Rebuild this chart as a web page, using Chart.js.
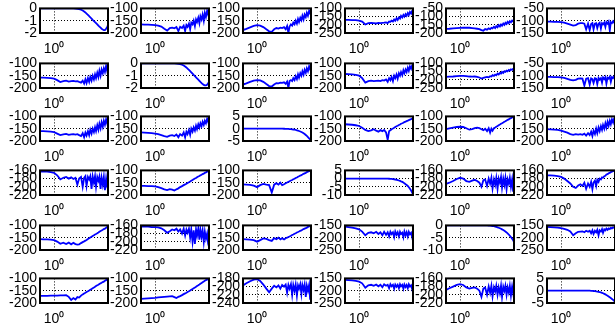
<!DOCTYPE html>
<html>
<head>
<meta charset="utf-8">
<script src="https://cdn.jsdelivr.net/npm/chart.js@4"></script>
<style>
  html, body { margin: 0; padding: 0; background: #fff; }
  #grid { position: relative; width: 615px; height: 324px; overflow: hidden; }
  #grid canvas { position: absolute; }
</style>
</head>
<body>
<div id="grid"></div>
<script>
// frequency samples (shared x axis, log scale)
const freq = [0.3, 0.4, 0.55, 0.75, 1, 1.3, 1.7, 2.2, 2.8, 3.5, 4.3, 5.2, 6.2, 7.3, 8.5, 10, 11.5, 13, 14.5, 16,
  18, 20, 22, 24.5, 27, 30, 33, 36, 40, 44, 48, 53, 58, 64, 70, 77, 85, 93, 100];
const xTickLabel = "10⁰";

// magnitude responses, row by row
const h11 = [0, 0, 0, 0, 0, 0, 0, 0, 0, 0, 0, 0, -0.01, -0.03, -0.06, -0.11, -0.17, -0.25, -0.33, -0.42,
  -0.53, -0.63, -0.72, -0.83, -0.93, -1.03, -1.12, -1.2, -1.3, -1.4, -1.48, -1.57, -1.65, -1.72, -1.77, -1.76, -1.66, -1.5, -1.36];
const h12 = [-165, -166, -166, -167, -168, -170, -174, -183, -190, -180, -178, -181, -176, -192, -175, -180, -170, -192, -168, -175,
  -162, -185, -158, -165, -150, -172, -145, -155, -138, -160, -132, -145, -125, -150, -118, -135, -110, -125, -102];
const h13 = [-188, -183, -177, -171, -168, -170, -176, -185, -193, -195, -185, -180, -182, -178, -180, -176, -185, -172, -200, -174,
  -165, -170, -158, -165, -150, -162, -143, -155, -138, -148, -130, -145, -125, -135, -118, -130, -110, -120, -102];
const h14 = [-170, -170, -171, -172, -174, -180, -198, -190, -188, -190, -192, -189, -190, -188, -187, -185, -190, -180, -182, -175,
  -180, -168, -175, -160, -170, -155, -162, -145, -155, -140, -150, -135, -145, -128, -140, -122, -132, -115, -110];
const h15 = [-175, -174, -172, -170, -169, -168, -167, -168, -170, -172, -174, -176, -182, -186, -176, -180, -172, -176, -168, -172,
  -162, -170, -158, -165, -152, -160, -148, -155, -142, -150, -138, -145, -132, -140, -128, -135, -124, -130, -118];
const h16 = [-104, -104, -105, -105, -106, -108, -112, -116, -120, -118, -112, -110, -110, -112, -135, -112, -138, -114, -110, -135,
  -112, -110, -130, -112, -108, -132, -110, -115, -108, -125, -106, -112, -104, -140, -106, -110, -102, -108, -100];

const h21 = [-158, -158, -159, -160, -162, -168, -176, -172, -170, -174, -172, -171, -173, -172, -175, -178, -170, -182, -165, -180,
  -160, -175, -155, -170, -150, -165, -145, -160, -138, -155, -130, -150, -125, -140, -120, -135, -110, -130, -108];
const h22 = [0, 0, 0, 0, 0, 0, 0, 0, 0, 0, 0, 0, -0.01, -0.03, -0.06, -0.11, -0.17, -0.25, -0.33, -0.42,
  -0.53, -0.63, -0.73, -0.84, -0.94, -1.04, -1.13, -1.22, -1.32, -1.42, -1.51, -1.6, -1.68, -1.75, -1.79, -1.79, -1.74, -1.62, -1.5];
const h23 = [-186, -181, -175, -170, -168, -169, -175, -184, -192, -194, -186, -180, -181, -178, -179, -177, -183, -174, -200, -172,
  -168, -172, -160, -168, -152, -164, -145, -158, -140, -150, -132, -146, -126, -138, -120, -132, -112, -124, -104];
const h24 = [-143, -144, -145, -147, -150, -160, -178, -172, -170, -172, -171, -170, -172, -168, -170, -165, -175, -160, -168, -155,
  -172, -150, -160, -145, -162, -140, -150, -135, -148, -128, -140, -125, -135, -118, -130, -112, -122, -108, -105];
const h25 = [-182, -181, -180, -178, -176, -176, -178, -180, -181, -180, -182, -186, -192, -188, -185, -182, -185, -178, -180, -172,
  -176, -168, -172, -162, -168, -158, -162, -152, -158, -148, -152, -144, -148, -140, -144, -136, -140, -132, -130];
const h26 = [-105, -105, -106, -106, -107, -109, -113, -117, -119, -117, -112, -111, -112, -140, -112, -110, -136, -111, -114, -130,
  -110, -112, -134, -109, -116, -110, -128, -107, -114, -106, -132, -108, -112, -104, -125, -106, -110, -102, -101];

const h31 = [-160, -160, -161, -162, -164, -170, -176, -173, -171, -175, -173, -172, -174, -172, -176, -180, -168, -185, -166, -178,
  -160, -176, -154, -170, -150, -164, -144, -160, -136, -154, -130, -148, -124, -142, -118, -134, -112, -128, -106];
const h32 = [-165, -166, -167, -168, -170, -172, -176, -180, -183, -178, -176, -180, -174, -185, -172, -178, -165, -185, -162, -172,
  -155, -175, -150, -162, -145, -158, -138, -152, -132, -145, -128, -140, -122, -135, -118, -128, -110, -122, -104];
const h33 = [0, 0, 0, 0, 0, 0, 0, 0, 0, 0, 0, 0, 0, 0, 0, -0.02, -0.04, -0.07, -0.1, -0.14,
  -0.2, -0.26, -0.33, -0.42, -0.52, -0.64, -0.78, -0.93, -1.12, -1.33, -1.55, -1.85, -2.15, -2.55, -2.95, -3.4, -3.9, -4.4, -4.9];
const h34 = [-132, -133, -134, -136, -139, -146, -155, -160, -157, -152, -158, -162, -156, -160, -155, -165, -195, -160, -156, -152,
  -149, -146, -143, -140, -138, -135, -133, -130, -128, -126, -123, -121, -119, -117, -115, -113, -111, -109, -107];
const h35 = [-152, -149, -146, -143, -142, -143, -148, -154, -152, -148, -146, -148, -152, -156, -150, -160, -148, -166, -150, -158,
  -148, -145, -142, -139, -136, -133, -130, -128, -125, -122, -120, -117, -114, -112, -109, -107, -104, -102, -100];
const h36 = [-152, -153, -154, -155, -158, -162, -166, -172, -175, -172, -174, -172, -175, -170, -178, -168, -176, -162, -180, -158,
  -172, -150, -168, -145, -160, -140, -155, -135, -150, -128, -145, -122, -138, -118, -132, -112, -125, -108, -105];

const h41 = [-163, -163, -163, -164, -166, -172, -182, -178, -176, -180, -177, -181, -178, -195, -180, -176, -200, -178, -174, -198,
  -176, -182, -174, -205, -175, -190, -174, -200, -176, -185, -175, -205, -178, -195, -176, -208, -180, -200, -205];
const h42 = [-163, -163, -164, -164, -165, -168, -172, -177, -180, -176, -178, -182, -177, -173, -168, -164, -160, -157, -154, -151,
  -148, -145, -142, -139, -136, -133, -131, -128, -125, -123, -120, -118, -115, -113, -110, -108, -105, -103, -101];
const h43 = [-157, -158, -159, -162, -168, -160, -155, -158, -160, -190, -158, -152, -158, -150, -160, -156, -152, -149, -147, -144,
  -141, -139, -136, -134, -131, -129, -126, -124, -121, -119, -117, -114, -112, -110, -107, -105, -103, -101, -100];
const h44 = [0, 0, 0, 0, 0, 0, 0, 0, 0, 0, 0, 0, 0, 0, 0, -0.02, -0.05, -0.09, -0.15, -0.22,
  -0.3, -0.4, -0.55, -0.7, -0.9, -1.15, -1.4, -1.7, -2.0, -2.4, -2.9, -3.4, -3.9, -4.5, -5.3, -6.2, -7.3, -8.5, -9.6];
const h45 = [-193, -190, -186, -181, -178, -180, -186, -188, -185, -183, -186, -190, -200, -184, -182, -198, -180, -192, -178, -204,
  -182, -195, -178, -205, -180, -190, -176, -202, -180, -195, -178, -206, -182, -192, -178, -200, -182, -212, -190];
const h46 = [-172, -172, -173, -174, -176, -180, -186, -192, -200, -203, -197, -194, -198, -190, -205, -192, -200, -188, -206, -190,
  -185, -198, -183, -188, -180, -182, -177, -178, -174, -173, -170, -169, -167, -166, -164, -163, -162, -161, -160];

const h51 = [-156, -157, -157, -158, -160, -166, -175, -170, -176, -170, -177, -171, -176, -178, -177, -172, -168, -165, -162, -159,
  -155, -152, -149, -146, -143, -140, -137, -135, -132, -129, -126, -123, -121, -118, -115, -113, -110, -107, -105];
const h52 = [-163, -163, -163, -164, -164, -165, -167, -172, -178, -174, -170, -172, -168, -175, -170, -180, -168, -185, -170, -178,
  -168, -190, -170, -200, -172, -205, -170, -185, -168, -195, -170, -188, -172, -200, -175, -192, -180, -205, -212];
const h53 = [-156, -157, -158, -160, -166, -160, -153, -155, -160, -163, -152, -156, -150, -157, -152, -157, -152, -150, -147, -145,
  -142, -139, -137, -134, -132, -129, -127, -125, -122, -120, -118, -115, -113, -111, -109, -106, -104, -102, -100];
const h54 = [-155, -157, -159, -162, -166, -175, -190, -180, -178, -182, -176, -185, -178, -190, -176, -188, -178, -195, -176, -185,
  -178, -198, -175, -188, -178, -195, -176, -185, -180, -198, -175, -190, -178, -195, -176, -186, -180, -198, -178];
const h55 = [0, 0, 0, 0, 0, 0, 0, 0, 0, 0, 0, 0, 0, 0, 0, -0.02, -0.05, -0.1, -0.16, -0.24,
  -0.34, -0.46, -0.6, -0.77, -0.95, -1.16, -1.38, -1.62, -1.9, -2.2, -2.5, -2.85, -3.25, -3.7, -4.2, -4.75, -5.4, -6.0, -6.8];
const h56 = [-156, -157, -158, -159, -161, -164, -168, -175, -190, -182, -176, -175, -174, -178, -172, -176, -172, -182, -170, -185,
  -172, -178, -168, -190, -170, -175, -165, -180, -166, -170, -163, -168, -162, -165, -160, -162, -158, -160, -157];

const h61 = [-171, -171, -171, -170, -170, -170, -169, -169, -168, -175, -188, -180, -186, -176, -178, -170, -165, -161, -158, -155,
  -152, -149, -146, -143, -140, -137, -134, -131, -128, -126, -123, -120, -118, -115, -113, -110, -107, -105, -103];
const h62 = [-183, -182, -181, -180, -179, -177, -176, -175, -174, -173, -172, -176, -180, -175, -172, -168, -164, -161, -158, -155,
  -152, -149, -146, -143, -140, -137, -134, -131, -128, -125, -122, -119, -116, -113, -110, -107, -105, -102, -100];
const h63 = [-197, -192, -187, -183, -182, -186, -195, -205, -214, -205, -198, -202, -197, -205, -196, -200, -195, -215, -196, -205,
  -194, -220, -196, -210, -195, -222, -197, -205, -194, -218, -196, -208, -195, -225, -198, -210, -196, -232, -205];
const h64 = [-156, -157, -158, -160, -163, -170, -188, -178, -176, -180, -175, -182, -176, -186, -174, -180, -176, -190, -174, -182,
  -176, -192, -175, -184, -176, -190, -174, -182, -176, -192, -175, -185, -177, -190, -174, -183, -178, -194, -176];
const h65 = [-188, -184, -180, -176, -174, -176, -182, -185, -183, -182, -185, -190, -205, -185, -182, -200, -180, -195, -178, -204,
  -182, -192, -178, -200, -182, -196, -178, -205, -180, -190, -178, -200, -182, -194, -178, -202, -180, -196, -185];
const h66 = [0, 0, 0, 0, 0, 0, 0, 0, 0, 0, 0, 0, 0, 0, 0, 0, 0, -0.03, -0.07, -0.12,
  -0.18, -0.25, -0.33, -0.43, -0.55, -0.7, -0.87, -1.05, -1.27, -1.5, -1.75, -2.02, -2.32, -2.65, -3.0, -3.35, -3.75, -4.15, -4.5];

const responses = [
  [h11, h12, h13, h14, h15, h16],
  [h21, h22, h23, h24, h25, h26],
  [h31, h32, h33, h34, h35, h36],
  [h41, h42, h43, h44, h45, h46],
  [h51, h52, h53, h54, h55, h56],
  [h61, h62, h63, h64, h65, h66],
];

// y limits per panel: [min, max, step]
const yLimits = [
  [[-2, 0, 1], [-200, -100, 50], [-200, -100, 50], [-250, -100, 50], [-200, -50, 50], [-150, -50, 50]],
  [[-200, -100, 50], [-2, 0, 1], [-200, -100, 50], [-200, -100, 50], [-250, -100, 50], [-150, -50, 50]],
  [[-200, -100, 50], [-200, -100, 50], [-5, 5, 5], [-200, -100, 50], [-200, -100, 50], [-200, -100, 50]],
  [[-220, -160, 20], [-200, -100, 50], [-200, -100, 50], [-10, 5, 5], [-220, -160, 20], [-220, -160, 20]],
  [[-200, -100, 50], [-220, -160, 20], [-200, -100, 50], [-250, -150, 50], [-10, 0, 5], [-250, -150, 50]],
  [[-200, -100, 50], [-200, -100, 50], [-240, -180, 20], [-250, -150, 50], [-220, -160, 20], [-5, 5, 5]],
];

// layout of the subplot boxes (plot area, in page pixels)
const colLeft = [40, 141, 243, 345, 446, 547];
const rowTop = [7, 62, 115, 169, 224, 277];
const boxW = 68, boxH = 26;
const padL = 40, padT = 10, padR = 4, padB = 24;

const font = { family: "'Liberation Sans', Arial, Helvetica, sans-serif", size: 14 };

const frame = {
  id: "frame",
  afterDatasetsDraw(chart) {
    const { ctx, chartArea: a } = chart;
    ctx.save();
    ctx.strokeStyle = "#000";
    ctx.lineWidth = 2;
    ctx.strokeRect(a.left, a.top, a.right - a.left, a.bottom - a.top);
    ctx.restore();
  },
};

function makePanel(r, c) {
  const canvas = document.createElement("canvas");
  canvas.width = padL + boxW + padR;
  canvas.height = padT + boxH + padB;
  canvas.style.left = (colLeft[c] - padL) + "px";
  canvas.style.top = (rowTop[r] - padT) + "px";
  document.getElementById("grid").appendChild(canvas);

  const [yMin, yMax, yStep] = yLimits[r][c];
  const values = responses[r][c];

  new Chart(canvas, {
    type: "line",
    data: {
      datasets: [{
        data: freq.map((f, i) => ({ x: f, y: values[i] })),
        borderColor: "#0000ff",
        borderWidth: 1.8,
        pointRadius: 0,
        tension: 0,
      }],
    },
    options: {
      responsive: false,
      animation: false,
      events: [],
      layout: { autoPadding: false, padding: { left: 0, top: padT, right: padR, bottom: 0 } },
      plugins: { legend: { display: false }, tooltip: { enabled: false } },
      scales: {
        x: {
          type: "logarithmic",
          min: 0.3,
          max: 100,
          afterBuildTicks: (s) => { s.ticks = [{ value: 1 }]; },
          afterFit: (s) => { s.height = padB; },
          ticks: { callback: () => xTickLabel, color: "#000", font, padding: 8, maxRotation: 0, autoSkip: false },
          grid: { color: "#000", lineWidth: 1, drawTicks: false },
          border: { display: false, dash: [1, 2] },
        },
        y: {
          min: yMin,
          max: yMax,
          afterFit: (s) => { s.width = padL; },
          ticks: { stepSize: yStep, color: "#000", font, padding: 3, autoSkip: false },
          grid: { color: "#000", lineWidth: 1, drawTicks: false },
          border: { display: false, dash: [1, 2] },
        },
      },
    },
    plugins: [frame],
  });
}

for (let r = 0; r < 6; r++) {
  for (let c = 0; c < 6; c++) makePanel(r, c);
}
</script>
</body>
</html>
